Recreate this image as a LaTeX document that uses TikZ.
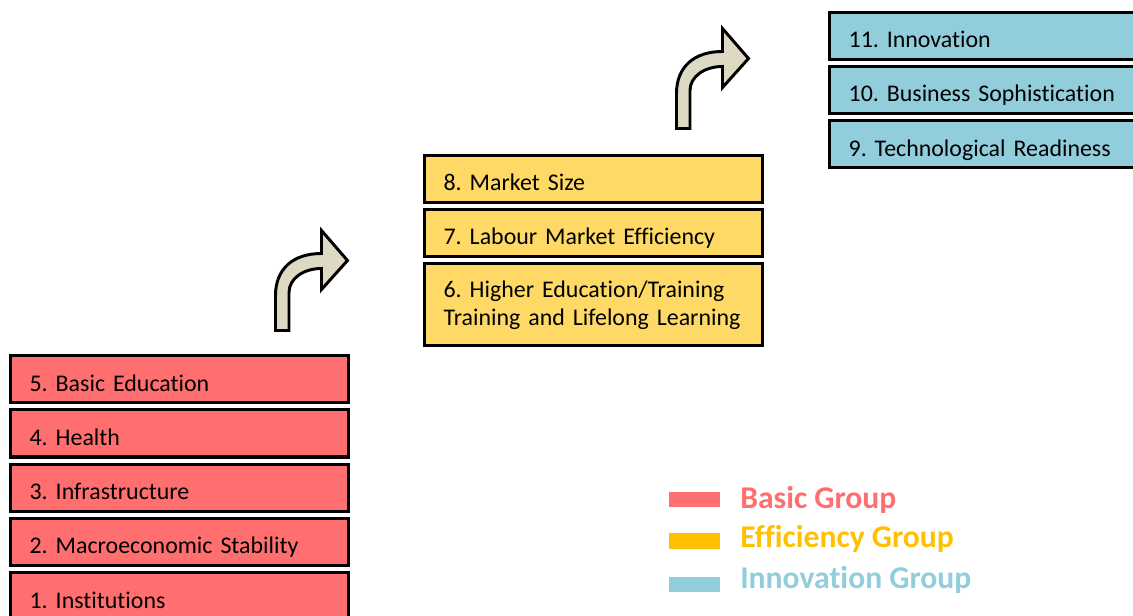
\documentclass[tikz,border=0pt]{standalone}
\usepackage{fontspec}
\setmainfont{Carlito}[Ligatures=NoCommon]
\usetikzlibrary{positioning}
\definecolor{basicRed}{HTML}{FF6F6F}
\definecolor{effYellow}{HTML}{FFD966}
\definecolor{effGold}{HTML}{FFC000}
\definecolor{innoBlue}{HTML}{92CDDC}
\definecolor{arrowTan}{HTML}{DDD9C3}
\frenchspacing

\begin{document}
\begin{tikzpicture}[x=0.025cm, y=-0.025cm,
    pil/.style={draw, line width=2.3pt, inner xsep=0.475cm, inner ysep=0pt, text width=7.5cm, align=left,
      text height=0.885cm, text depth=0.29cm, font=\fontsize{17}{19.9}\selectfont},
    sw/.style={minimum width=1.275cm, minimum height=0.39cm, inner sep=0pt},
    lg/.style={anchor=base west, inner sep=0pt, font=\fontsize{22.5}{26}\selectfont\bfseries},
    node distance=0.1cm,
    bent/.pic={
      \draw[line width=2.1pt, fill=arrowTan] (0,0) -- (0,-35) .. controls (0,-62) and (18,-77) .. (46,-77)
        -- (46,-100) -- (72,-70) -- (46,-41) -- (46,-62) .. controls (28,-62) and (13.5,-52) .. (13.5,-38)
        -- (13.5,0) -- cycle;
    }
  ]
    \useasboundingbox (0,0) rectangle (1133,616);
    \clip (0,0) rectangle (1133,616);

    % basic group
    \node[pil, fill=basicRed, anchor=north west] (p1) at (9,571) {1. Institutions};
    \node[pil, fill=basicRed, above=of p1] (p2) {2. Macroeconomic Stability};
    \node[pil, fill=basicRed, above=of p2] (p3) {3. Infrastructure};
    \node[pil, fill=basicRed, above=of p3] (p4) {4. Health};
    \node[pil, fill=basicRed, above=of p4] (p5) {5. Basic Education};

    % efficiency group
    \node[pil, fill=effYellow, anchor=north west, text height=0.835cm, text depth=1.21cm] (p6) at (423,262)
      {6. Higher Education/Training\\Training and Lifelong Learning};
    \node[pil, fill=effYellow, above=of p6] (p7) {7. Labour Market Efficiency};
    \node[pil, fill=effYellow, above=of p7] (p8) {8. Market Size};

    % innovation group
    \node[pil, fill=innoBlue, anchor=north west] (p9) at (828,119) {9. Technological Readiness};
    \node[pil, fill=innoBlue, above=of p9] (p10) {10. Business Sophistication};
    \node[pil, fill=innoBlue, above=of p10] (p11) {11. Innovation};

    \pic at (275.5,330.5) {bent};
    \pic at (676.5,128.5) {bent};

    % legend
    \node[sw, fill=basicRed] (swB) at (694.5,499.5) {};
    \node[sw, fill=effGold] (swE) at (694.5,541) {};
    \node[sw, fill=innoBlue] (swI) at (694.5,584.5) {};
    \node[lg, text=basicRed] (lgB) at (740,508) {Basic Group};
    \node[lg, text=effGold] (lgE) at (740,547) {Efficiency Group};
    \node[lg, text=innoBlue] (lgI) at (740,588) {Innovation Group};
  \end{tikzpicture}
\end{document}
